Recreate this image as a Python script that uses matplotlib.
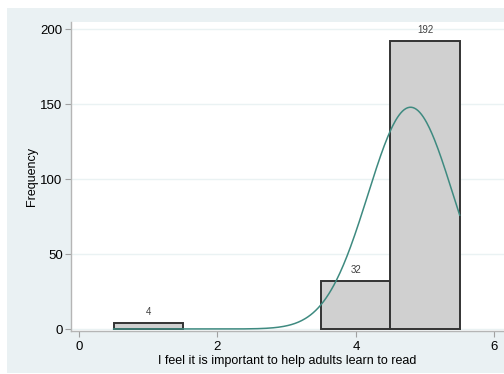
import numpy as np
import matplotlib.pyplot as plt
from matplotlib.patches import Rectangle

plt.rcParams['font.family'] = ['Liberation Sans', 'DejaVu Sans']

# histogram bins (width 1) and their counts
bin_centers = [1, 4, 5]
counts = [4, 32, 192]
bar_labels = ["4", "32", "192"]
x_ticks = [0, 2, 4, 6]
y_ticks = [0, 50, 100, 150, 200]

fig = plt.figure(figsize=(5.04, 3.74), dpi=100)
fig.patch.set_facecolor("white")
# stata-like outer region
bg = Rectangle((7 / 504, 1 / 374), 497 / 504, 365 / 374,
               transform=fig.transFigure, facecolor="#eaf1f3",
               edgecolor="none")
bg.set_zorder(-5)
fig.add_artist(bg)

ax = fig.add_axes([71 / 504, 43.5 / 374, 433 / 504, 308.5 / 374])
ax.set_facecolor("white")

ax.bar(bin_centers, counts, width=1, color="#d0d0d0", edgecolor="#333333",
       linewidth=1.4, zorder=2)
for xc, c, lab in zip(bin_centers, counts, bar_labels):
    ax.text(xc, c + 4, lab, ha="center", va="bottom", fontsize=7,
            color="#404040", zorder=4)

# normal density overlay scaled to frequency
vals = np.repeat(bin_centers, counts)
mu = vals.mean()
sd = vals.std(ddof=1)
n = len(vals)
xs = np.linspace(0.5, 5.5, 400)
ys = n * 1.0 / (sd * np.sqrt(2 * np.pi)) * np.exp(-0.5 * ((xs - mu) / sd) ** 2)
ax.plot(xs, ys, color="#3e8a80", linewidth=1.1, zorder=3)

ax.set_xlim(-0.116, 6.14)
ax.set_ylim(-1, 204.7)
ax.set_xticks(x_ticks)
ax.set_yticks(y_ticks)
ax.set_yticklabels([str(t) for t in y_ticks])
ax.grid(axis="y", color="#eaf2f3", linewidth=1, zorder=0)
ax.set_axisbelow(True)

for s in ["top", "right"]:
    ax.spines[s].set_visible(False)
for s in ["left", "bottom"]:
    ax.spines[s].set_color("#b5b5b5")
    ax.spines[s].set_linewidth(1)
ax.tick_params(direction="out", length=4, width=0.8, color="#a0a0a0",
               labelsize=9.5, labelcolor="black", pad=2)
ax.tick_params(axis="x", pad=3.5)

ax.set_xlabel("I feel it is important to help adults learn to read",
              fontsize=9, labelpad=1.5)
ax.set_ylabel("Frequency", fontsize=9, labelpad=2)

fig.savefig("out.png", dpi=100)
